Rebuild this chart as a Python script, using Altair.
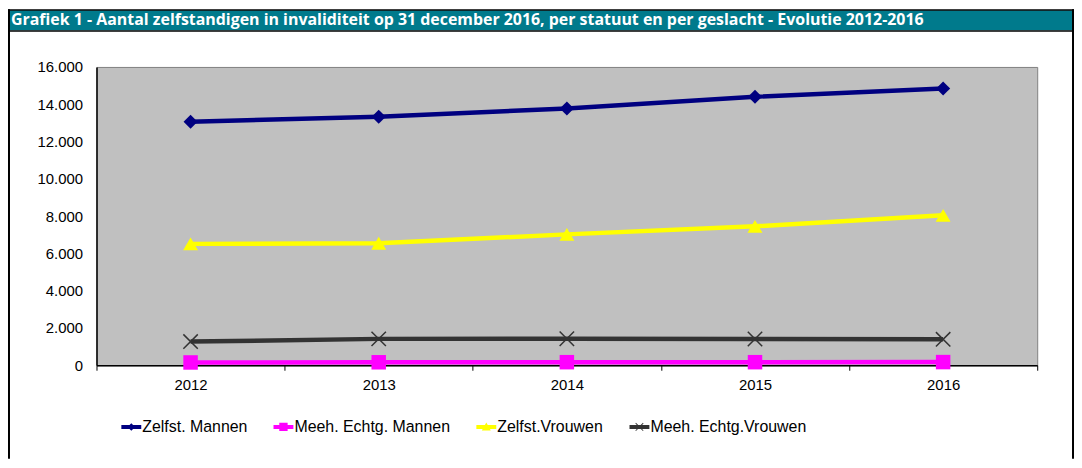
import altair as alt
import pandas as pd

years = ["2012", "2013", "2014", "2015", "2016"]
series_names = ["Zelfst. Mannen", "Meeh. Echtg. Mannen", "Zelfst.Vrouwen", "Meeh. Echtg.Vrouwen"]
zelfst_mannen = [13060, 13330, 13770, 14400, 14840]
meeh_mannen = [150, 160, 165, 165, 170]
zelfst_vrouwen = [6510, 6540, 7020, 7450, 8040]
meeh_vrouwen = [1270, 1415, 1420, 1410, 1390]
colors = ["#000080", "#FF00FF", "#FFFF00", "#333333"]
title_text = "Grafiek 1 - Aantal zelfstandigen in invaliditeit op 31 december 2016, per statuut en per geslacht - Evolutie 2012-2016"

rows = []
for name, vals in zip(series_names, [zelfst_mannen, meeh_mannen, zelfst_vrouwen, meeh_vrouwen]):
    for yr, v in zip(years, vals):
        rows.append({"jaar": yr, "serie": name, "waarde": v})
df = pd.DataFrame(rows)

W, H = 946, 300
FONT = "Liberation Sans"

x_enc = alt.X("jaar:N", sort=years,
              scale=alt.Scale(type="band", paddingInner=0, paddingOuter=0),
              axis=alt.Axis(title=None, labelAngle=0, tickBand="extent", domainColor="#000000",
                            domainWidth=1.5, tickColor="#000000", tickSize=5, labelPadding=7,
                            labelFontSize=15, labelFont=FONT, labelColor="#000000", grid=False))
y_enc = alt.Y("waarde:Q", scale=alt.Scale(domain=[0, 16000], nice=False),
              axis=alt.Axis(title=None, values=list(range(0, 16001, 2000)), ticks=False, tickSize=0,
                            labelPadding=14, domainColor="#000000", domainWidth=1.5,
                            labelFontSize=15, labelFont=FONT, labelColor="#000000", grid=False,
                            labelExpr="replace(format(datum.value, ',d'), ',', '.')"))
color_main = alt.Color("serie:N", scale=alt.Scale(domain=series_names, range=colors), legend=None)

lines = alt.Chart(df).mark_line(strokeWidth=4.5).encode(x=x_enc, y=y_enc, color=color_main,
                                                       detail="serie:N")

filled_series = series_names[:3]
pts = alt.Chart(df).transform_filter(
    alt.FieldOneOfPredicate(field="serie", oneOf=filled_series)
).mark_point(filled=True, opacity=1, strokeWidth=0).encode(
    x=x_enc, y=y_enc, color=color_main,
    shape=alt.Shape("serie:N", scale=alt.Scale(domain=filled_series,
                                               range=["diamond", "square", "triangle-up"]), legend=None),
    size=alt.Size("serie:N", scale=alt.Scale(domain=filled_series, range=[200, 225, 250]), legend=None),
)

xpts = alt.Chart(df).transform_filter(
    alt.FieldEqualPredicate(field="serie", equal=series_names[3])
).mark_point(filled=False, opacity=1, strokeWidth=1.5, size=210,
             shape="M-1,-1L1,1M-1,1L1,-1", color="#333333").encode(x=x_enc, y=y_enc)

leg_paths = [
    "M-1,-0.2H1V0.2H-1Z M0,-0.38L0.38,0L0,0.38L-0.38,0Z",
    "M-1,-0.2H1V0.2H-1Z M-0.42,-0.42H0.42V0.42H-0.42Z",
    "M-1,-0.2H1V0.2H-1Z M0,-0.45L0.45,0.35L-0.45,0.35Z",
    "M-1,-0.2H1V0.2H-1Z M-0.35,-0.41L0.41,0.35L0.35,0.41L-0.41,-0.35Z M0.35,-0.41L0.41,-0.35L-0.35,0.41L-0.41,0.35Z",
]
legend_layer = alt.Chart(df).transform_filter("datum.waarde < 0").mark_point(
    filled=True, opacity=1, size=400
).encode(
    x=x_enc, y=y_enc,
    color=alt.Color("serie:N", scale=alt.Scale(domain=series_names, range=colors), title=None,
                    legend=alt.Legend(orient="none", legendX=25, legendY=352, direction="horizontal",
                                      symbolSize=400, symbolStrokeWidth=0, labelFontSize=16,
                                      labelFont=FONT, labelColor="#000000", columnPadding=26,
                                      labelOffset=1, padding=0, labelLimit=300)),
    shape=alt.Shape("serie:N", scale=alt.Scale(domain=series_names, range=leg_paths), title=None),
)

deco = pd.DataFrame({"k": [0]})
bar = alt.Chart(deco).mark_rect(color="#007A8C").encode(
    x=alt.value(-89), x2=alt.value(983), y=alt.value(-57), y2=alt.value(-37))
topline = alt.Chart(deco).mark_rect(color="#000000").encode(
    x=alt.value(-89), x2=alt.value(983), y=alt.value(-58), y2=alt.value(-56.5))
midline = alt.Chart(deco).mark_rect(color="#000000").encode(
    x=alt.value(-89), x2=alt.value(983), y=alt.value(-37), y2=alt.value(-35.5))
leftline = alt.Chart(deco).mark_rect(color="#000000").encode(
    x=alt.value(-89), x2=alt.value(-87), y=alt.value(-58), y2=alt.value(394))
rightline = alt.Chart(deco).mark_rect(color="#000000").encode(
    x=alt.value(981), x2=alt.value(983), y=alt.value(-58), y2=alt.value(394))
title = alt.Chart(deco).mark_text(align="left", baseline="middle", font="Open Sans", fontWeight="bold",
                                  fontSize=16, color="#FFFFFF").encode(
    x=alt.value(-86), y=alt.value(-47), text=alt.value(title_text))

chart = alt.layer(
    bar, topline, midline, leftline, rightline, title,
    lines, pts, xpts, legend_layer
).resolve_scale(color="independent", shape="independent", size="independent").properties(
    width=W, height=H,
    padding={"left": 89, "top": 58, "right": 37, "bottom": 94},
    autosize=alt.AutoSizeParams(type="none"),
    background="#FFFFFF",
).configure_view(fill="#C0C0C0", stroke="#808080", strokeWidth=1)

chart.save("out.html", embed_options={"renderer": "svg", "actions": False})
